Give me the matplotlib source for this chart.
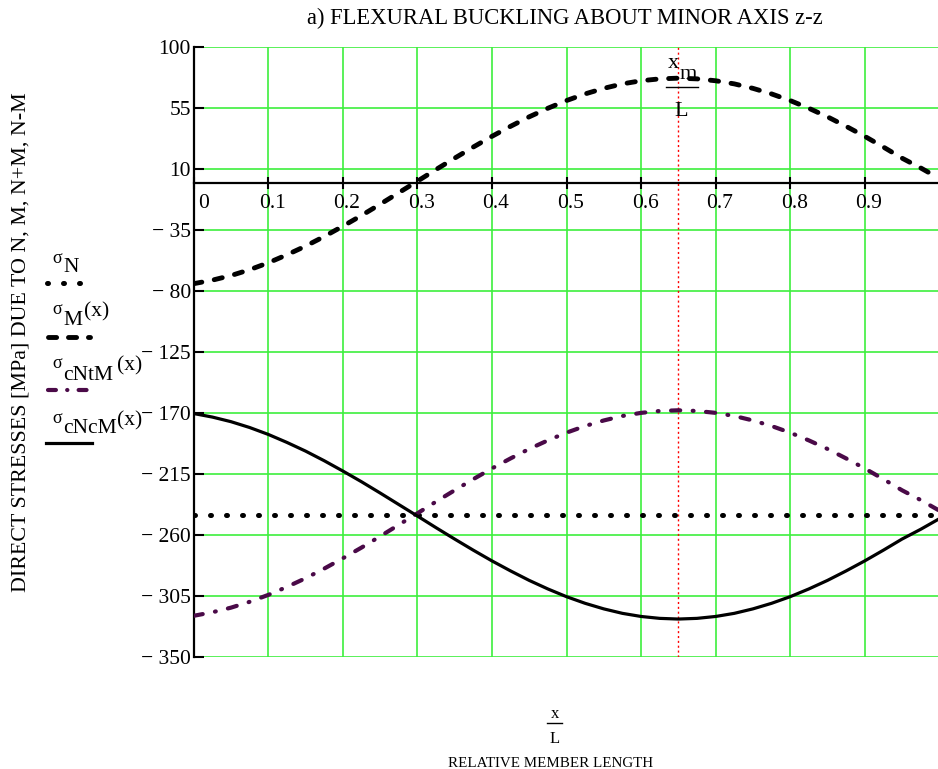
import numpy as np
import matplotlib
matplotlib.use("Agg")
import matplotlib.pyplot as plt
import matplotlib.transforms as mtransforms
from matplotlib.lines import Line2D

plt.rcParams["font.family"] = ["Liberation Serif", "DejaVu Serif"]

# Relative member length x/L
x_rel = [0.000, 0.025, 0.050, 0.075, 0.100, 0.125, 0.150, 0.175, 0.200, 0.225,
         0.250, 0.275, 0.300, 0.325, 0.350, 0.375, 0.400, 0.425, 0.450, 0.475,
         0.500, 0.525, 0.550, 0.575, 0.600, 0.625, 0.650, 0.675, 0.700, 0.725,
         0.750, 0.775, 0.800, 0.825, 0.850, 0.875, 0.900, 0.925, 0.950, 0.975,
         1.000]

# direct stresses [MPa]
sigma_N = [-245.0] * len(x_rel)
sigma_M = [-74.6, -72.0, -68.6, -64.3, -59.2, -53.3, -46.9, -39.8, -32.2, -24.3,
           -16.0, -7.5, 1.0, 9.6, 18.0, 26.2, 34.1, 41.5, 48.5, 54.8,
           60.5, 65.4, 69.5, 72.8, 75.1, 76.5, 77.0, 76.5, 75.1, 72.8,
           69.5, 65.4, 60.5, 54.8, 48.5, 41.5, 34.1, 26.2, 18.0, 10.8,
           3.0]
sigma_cNtM = [-319.6, -317.0, -313.6, -309.3, -304.2, -298.3, -291.9, -284.8, -277.2, -269.3,
              -261.0, -252.5, -244.0, -235.4, -227.0, -218.8, -210.9, -203.5, -196.5, -190.2,
              -184.5, -179.6, -175.5, -172.2, -169.9, -168.5, -168.0, -168.5, -169.9, -172.2,
              -175.5, -179.6, -184.5, -190.2, -196.5, -203.5, -210.9, -218.8, -227.0, -234.2,
              -242.0]
sigma_cNcM = [-170.4, -173.0, -176.4, -180.7, -185.8, -191.7, -198.1, -205.2, -212.8, -220.7,
              -229.0, -237.5, -246.0, -254.6, -263.0, -271.2, -279.1, -286.5, -293.5, -299.8,
              -305.5, -310.4, -314.5, -317.8, -320.1, -321.5, -322.0, -321.5, -320.1, -317.8,
              -314.5, -310.4, -305.5, -299.8, -293.5, -286.5, -279.1, -271.2, -263.0, -255.8,
              -248.0]

xm_rel = 0.65

xticks = [0, 0.1, 0.2, 0.3, 0.4, 0.5, 0.6, 0.7, 0.8, 0.9]
xtick_labels = ["0", "0.1", "0.2", "0.3", "0.4", "0.5", "0.6", "0.7", "0.8", "0.9"]
yticks = [100, 55, 10, -35, -80, -125, -170, -215, -260, -305, -350]
ytick_labels = ["100", "55", "10", "\u2212 35", "\u2212 80", "\u2212 125", "\u2212 170",
                "\u2212 215", "\u2212 260", "\u2212 305", "\u2212 350"]

PURPLE = "#4a0a48"
GREEN = "#3def3d"

W, H = 938, 769


def fx(px):
    return px / W


def fy(py):
    return 1 - py / H


fig = plt.figure(figsize=(9.38, 7.69), dpi=100)
ax = fig.add_axes([fx(193.7), fy(657), 745.6 / W, 610 / H])

for s in ["top", "right"]:
    ax.spines[s].set_visible(False)
ax.spines["left"].set_linewidth(1.6)
ax.spines["bottom"].set_position(("data", 0))
ax.spines["bottom"].set_linewidth(1.6)

# line styles (shared by curves and legend samples)
st_N = dict(color="black", lw=3.6, dashes=(0.2, 3.0), dash_capstyle="round")
st_M = dict(color="black", lw=3.5, dashes=(1.7, 2.6), dash_capstyle="round")
st_NtM = dict(color=PURPLE, lw=3.0, dashes=(2.2, 3.0, 0.2, 3.0), dash_capstyle="round")
st_NcM = dict(color="black", lw=2.3)

ax.plot(x_rel, sigma_N, zorder=3, **st_N)
ax.plot(x_rel, sigma_M, zorder=3, **st_M)
ax.plot(x_rel, sigma_cNtM, zorder=3, **st_NtM)
ax.plot(x_rel, sigma_cNcM, zorder=3, **st_NcM)

ax.axvline(xm_rel, color="red", lw=1, ls=(0, (1.5, 2)), zorder=2)

ax.set_xlim(0, 1)
ax.set_ylim(-350, 100)
ax.set_xticks(xticks)
ax.set_xticklabels(xtick_labels, fontsize=15.5)
ax.set_yticks(yticks)
ax.set_yticklabels(ytick_labels, fontsize=15.5)
ax.grid(True, color=GREEN, lw=1.2, zorder=0)
ax.set_axisbelow(True)

ax.tick_params(axis="x", direction="inout", length=9, width=1.5, pad=4)
ax.tick_params(axis="y", direction="in", length=7, width=1.5, pad=2)

shift = mtransforms.ScaledTranslation(4 / 100, 0, fig.dpi_scale_trans)
for i, lab in enumerate(ax.get_xticklabels()):
    lab.set_transform(lab.get_transform() + shift)
    if i == 0:
        lab.set_horizontalalignment("left")

# x_m / L marker
ax.text(0.6504, 84.5, "x", ha="right", va="baseline", fontsize=16)
ax.text(0.6522, 76.5, "m", ha="left", va="baseline", fontsize=16)
ax.plot([0.6334, 0.6763], [70.5, 70.5], color="black", lw=1, zorder=4)
ax.text(0.6536, 59.5, "L", ha="center", va="top", fontsize=16)

# titles
fig.text(fx(565), fy(18), "a) FLEXURAL BUCKLING ABOUT MINOR AXIS z-z",
         ha="center", va="center", fontsize=16.3)
fig.text(fx(21), fy(342), "DIRECT STRESSES [MPa] DUE TO N, M, N+M, N-M",
         rotation=90, ha="center", va="center", fontsize=15.8)
fig.text(fx(555), fy(718), "x", ha="center", va="baseline", fontsize=12)
fig.add_artist(Line2D([fx(547), fx(562)], [fy(723), fy(723)], color="black", lw=1))
fig.text(fx(555), fy(743), "L", ha="center", va="baseline", fontsize=12)
fig.text(fx(551), fy(767), "RELATIVE MEMBER LENGTH", ha="center", va="baseline",
         fontsize=10.8)

# legend on the left
legend_items = [
    ("N", "", 263, 272, 0, 283, 47, 81, st_N),
    ("M", "(x)", 314, 325, 84, 337, 47.5, 89.5, dict(st_M, dashes=(1.67, 2.44))),
    ("cNtM", "(x)", 368, 380, 117, 390, 47.5, 88,
     dict(st_NtM, dashes=(1.9, 2.7, 0.05, 2.7))),
    ("cNcM", "(x)", 423, 433, 117, 443, 46, 92, st_NcM),
]
for sub, arg, base_top, base_sub, x_arg, y_line, x0, x1, style in legend_items:
    fig.text(fx(52), fy(base_top), "\u03c3", ha="left", va="baseline", fontsize=13)
    fig.text(fx(63), fy(base_sub), sub, ha="left", va="baseline", fontsize=15.5)
    if arg:
        fig.text(fx(x_arg), fy(base_top + 2), arg, ha="left", va="baseline", fontsize=15.5)
    fig.add_artist(Line2D([fx(x0), fx(x1)], [fy(y_line), fy(y_line)], **style))

fig.savefig("out.png", dpi=100)
